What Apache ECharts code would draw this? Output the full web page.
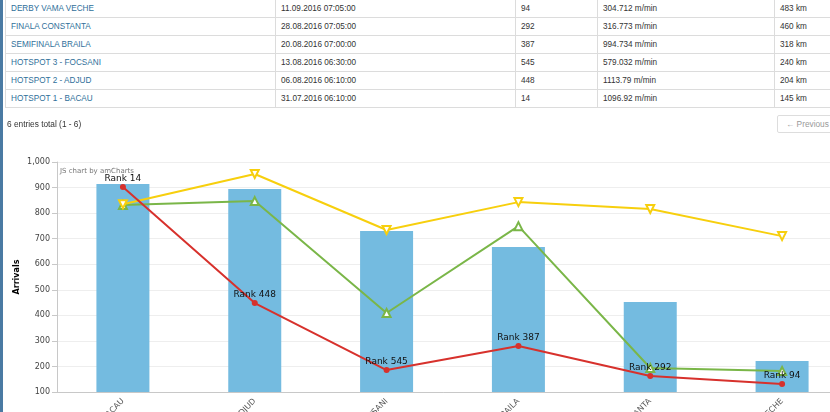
<!DOCTYPE html>
<html>
<head>
<meta charset="utf-8">
<script src="https://cdn.jsdelivr.net/npm/echarts@6/dist/echarts.min.js"></script>
<style>
  html, body { margin: 0; padding: 0; background: #fff; }
  #wrap { position: relative; width: 830px; height: 412px; overflow: hidden; font-family: "Liberation Sans", Arial, sans-serif; }
  #chart { position: absolute; left: 0; top: 0; width: 830px; height: 412px; }
  #strip { position: absolute; left: 0; top: 0; width: 3px; height: 412px; background: #4a7aa3; z-index: 3; }
  table { position: absolute; left: 5px; top: -1px; width: 831px; table-layout: fixed; border-collapse: collapse; z-index: 2; font-size: 8.2px; color: #333; background: #fff; }
  td { box-sizing: border-box; border: 1px solid #dcdcdc; height: 18px; padding: 0 0 0 5px; white-space: nowrap; overflow: hidden; }
  td.name { color: #2f6f9a; }
  #info { position: absolute; left: 7px; top: 119px; font-size: 8.3px; color: #333; z-index: 2; }
  #prev { position: absolute; left: 777px; top: 115px; width: 60px; height: 18px; box-sizing: border-box; border: 1px solid #ddd; border-radius: 2px; font-size: 8.3px; color: #999; line-height: 16px; padding-left: 8px; z-index: 2; background: #fff; }
</style>
</head>
<body>
<div id="wrap">
  <div id="chart"></div>
  <div id="strip"></div>
  <table id="tbl"><colgroup><col style="width:270px"><col style="width:240px"><col style="width:82px"><col style="width:177px"><col style="width:62px"></colgroup><tbody id="tbody"></tbody></table>
  <div id="info">6 entries total (1 - 6)</div>
  <div id="prev">&larr; Previous</div>
</div>
<script>
// ---- data ----
const categories = ["HOTSPOT 1 - BACAU", "HOTSPOT 2 - ADJUD", "HOTSPOT 3 - FOCSANI", "SEMIFINALA BRAILA", "FINALA CONSTANTA", "DERBY VAMA VECHE"];
const arrivals = [914, 894, 730, 667, 452, 221];
const redLine = [902, 448, 186, 280, 163, 131];
const yellowLine = [835, 953, 734, 843, 816, 710];
const greenLine = [832, 847, 409, 749, 194, 182];
const ranks = [14, 448, 545, 387, 292, 94];

// table rows (displayed in reverse chronological order)
const tableNames = ["DERBY VAMA VECHE", "FINALA CONSTANTA", "SEMIFINALA BRAILA", "HOTSPOT 3 - FOCSANI", "HOTSPOT 2 - ADJUD", "HOTSPOT 1 - BACAU"];
const tableDates = ["11.09.2016 07:05:00", "28.08.2016 07:05:00", "20.08.2016 07:00:00", "13.08.2016 06:30:00", "06.08.2016 06:10:00", "31.07.2016 06:10:00"];
const tableRanks = ["94", "292", "387", "545", "448", "14"];
const tableSpeeds = ["304.712 m/min", "316.773 m/min", "994.734 m/min", "579.032 m/min", "1113.79 m/min", "1096.92 m/min"];
const tableDists = ["483 km", "460 km", "318 km", "240 km", "204 km", "145 km"];

// ---- table ----
const tbody = document.getElementById('tbody');
let html = '';
for (let i = 0; i < tableNames.length; i++) {
  html += '<tr><td class="name">' + tableNames[i] + '</td><td>' + tableDates[i] +
    '</td><td>' + tableRanks[i] + '</td><td>' + tableSpeeds[i] +
    '</td><td>' + tableDists[i] + '</td></tr>';
}
tbody.innerHTML = html;

// ---- chart ----
const chart = echarts.init(document.getElementById('chart'), null, { renderer: 'canvas' });
const option = {
  animation: false,
  textStyle: { fontFamily: '"DejaVu Sans", Verdana, sans-serif' },
  grid: { left: 57, right: -18, top: 162, bottom: 20, containLabel: false, outerBoundsMode: 'none' },
  graphic: [{
    type: 'text', left: 60, top: 168,
    style: { text: 'JS chart by amCharts', fill: '#777', font: '7px "DejaVu Sans", Verdana, sans-serif' }
  }],
  xAxis: {
    type: 'category',
    data: categories,
    boundaryGap: true,
    axisLine: { lineStyle: { color: '#c8c8c8' } },
    axisTick: { show: false },
    axisLabel: { rotate: 45, fontSize: 8, color: '#555', margin: 8, interval: 0 }
  },
  yAxis: {
    type: 'value',
    min: 100, max: 1000, interval: 100,
    name: 'Arrivals',
    nameLocation: 'middle',
    nameGap: 36,
    nameMoveOverlap: false,
    nameTextStyle: { fontWeight: 'bold', fontSize: 8, color: '#000', fontFamily: '"DejaVu Sans", Verdana, sans-serif' },
    axisLine: { show: true, lineStyle: { color: '#c8c8c8' } },
    axisTick: { show: true, length: 5, lineStyle: { color: '#c8c8c8' } },
    axisLabel: {
      fontSize: 8, color: '#444', margin: 7,
      formatter: v => v.toLocaleString('en-US')
    },
    splitLine: { lineStyle: { color: '#eeeeee' } }
  },
  series: [
    {
      type: 'bar', name: 'Arrivals', data: arrivals, barWidth: 53,
      itemStyle: { color: '#74bbe0' }
    },
    {
      type: 'line', name: 'Rank', data: redLine,
      symbol: 'circle', symbolSize: 6,
      lineStyle: { color: '#d7312c', width: 2 },
      itemStyle: { color: '#d7312c' },
      label: {
        show: true, position: 'top', distance: 1,
        fontSize: 9, color: '#111',
        formatter: p => 'Rank ' + ranks[p.dataIndex]
      },
      z: 5
    },
    {
      type: 'line', name: 'Yellow', data: yellowLine,
      symbol: 'emptyTriangle', symbolRotate: 180, symbolSize: 8,
      lineStyle: { color: '#f7cf0d', width: 2 },
      itemStyle: { color: '#f7cf0d', borderWidth: 2 },
      z: 4
    },
    {
      type: 'line', name: 'Green', data: greenLine,
      symbol: 'emptyTriangle', symbolSize: 8,
      lineStyle: { color: '#7ab648', width: 2 },
      itemStyle: { color: '#7ab648', borderWidth: 2 },
      z: 3
    }
  ]
};
chart.setOption(option);
</script>
</body>
</html>
